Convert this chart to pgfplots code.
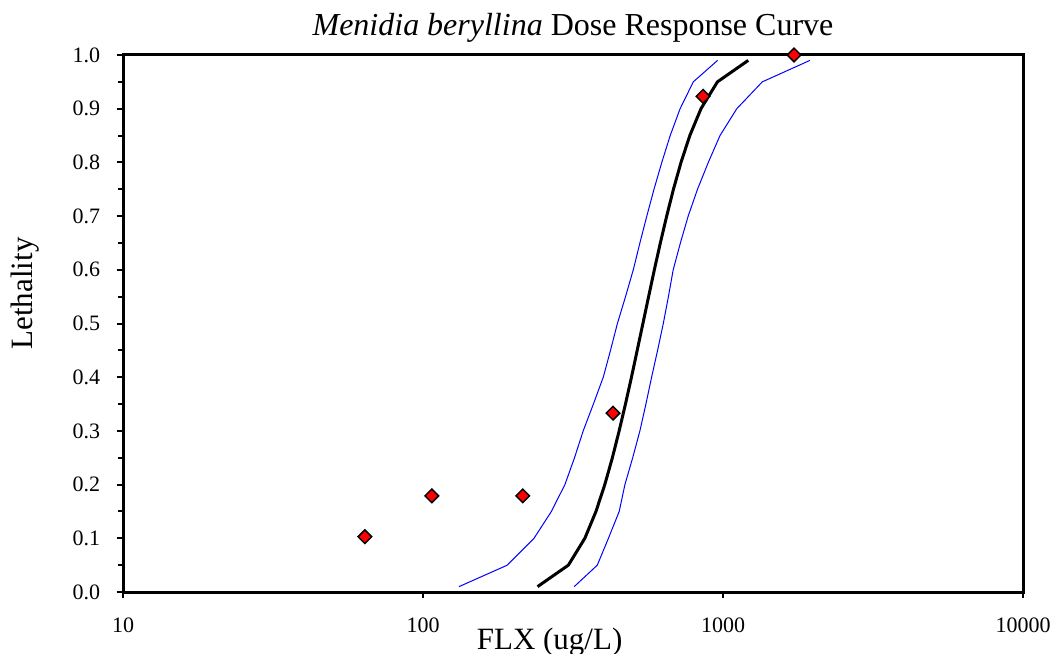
\documentclass[border=0pt]{standalone}
\usepackage{pgfplots}
\pgfplotsset{compat=1.18}
\usepackage{fontspec}
\setmainfont{Liberation Serif}

% lethality vs concentration, probit fit with confidence limits
\begin{document}
\begin{tikzpicture}
\path[use as bounding box] (-61.5pt,-30.5pt) rectangle (465pt,296pt);
\begin{semilogxaxis}[
  scale only axis,
  width=450pt, height=268.5pt,
  xmin=10, xmax=10000,
  ymin=0, ymax=1,
  axis line style={line width=1.5pt},
  tick style={line width=1pt, black},
  tick align=outside,
  tick pos=left,
  major tick length=3.2pt,
  minor tick length=2.5pt,
  xtick={10,100,1000,10000},
  xticklabels={10,100,1000,10000},
  xminorticks=false,
  ytick={0,0.1,0.2,0.3,0.4,0.5,0.6,0.7,0.8,0.9,1.0},
  minor y tick num=1,
  yticklabel style={/pgf/number format/fixed, /pgf/number format/fixed zerofill,
    /pgf/number format/precision=1, /pgf/number format/assume math mode=true,
    anchor=east, inner sep=0pt, xshift=-8pt, font=\fontsize{11pt}{13pt}\selectfont},
  xticklabel style={anchor=base, inner sep=0pt, yshift=-17pt, font=\fontsize{11pt}{13pt}\selectfont},
  title={\textit{Menidia beryllina} Dose Response Curve},
  title style={at={(axis description cs:0.5,1)}, anchor=base, inner sep=0pt, yshift=3.5pt, font=\fontsize{16pt}{18pt}\selectfont},
  xlabel={FLX (ug/L)},
  xlabel style={at={(axis description cs:0.474,0)}, anchor=base, inner sep=0pt, yshift=-28.5pt, font=\fontsize{15.5pt}{18pt}\selectfont},
  ylabel={Lethality},
  ylabel style={at={(axis description cs:-0.1011,0.556)}, anchor=base, rotate=0, inner sep=0pt, font=\fontsize{15.5pt}{18pt}\selectfont},
]
% lower limit
\addplot[blue, line width=0.5pt] coordinates {
  (131.8,0.01) (191.0,0.05) (234.4,0.10) (267.9,0.15) (297.2,0.20)
  (319.9,0.25) (342.0,0.30) (369.8,0.35) (399.0,0.40) (421.7,0.45)
  (444.6,0.50) (473.2,0.55) (502.3,0.60) (528.4,0.65) (557.2,0.70)
  (588.8,0.75) (625.2,0.80) (666.8,0.85) (719.5,0.90) (796.2,0.95)
  (959.4,0.99)
};
% upper limit
\addplot[blue, line width=0.5pt] coordinates {
  (319.2,0.01) (381.1,0.05) (415.0,0.10) (450.8,0.15) (471.0,0.20)
  (500.0,0.25) (528.4,0.30) (553.4,0.35) (578.1,0.40) (605.3,0.45)
  (632.4,0.50) (657.7,0.55) (682.3,0.60) (721.1,0.65) (765.6,0.70)
  (822.2,0.75) (893.3,0.80) (977.2,0.85) (1111.7,0.90) (1352.1,0.95)
  (1949.8,0.99)
};
% fitted curve
\addplot[black, line width=1.5pt] coordinates {
  (240.9,0.01) (305.2,0.05) (346.3,0.10) (377.2,0.15) (403.6,0.20)
  (427.8,0.25) (450.6,0.30) (473.0,0.35) (495.3,0.40) (517.6,0.45)
  (540.8,0.50) (564.9,0.55) (590.4,0.60) (618.2,0.65) (649.0,0.70)
  (683.6,0.75) (724.6,0.80) (775.3,0.85) (844.5,0.90) (958.2,0.95)
  (1214.0,0.99)
};
% observed
\addplot[only marks, mark=square*, mark size=2.4pt,
  mark options={rotate=45, fill=red, draw=black, line width=0.75pt}] coordinates {
  (64,0.103) (107,0.179) (215,0.179) (430,0.333) (858,0.923) (1725,1.0)
};
\end{semilogxaxis}
\end{tikzpicture}
\end{document}
